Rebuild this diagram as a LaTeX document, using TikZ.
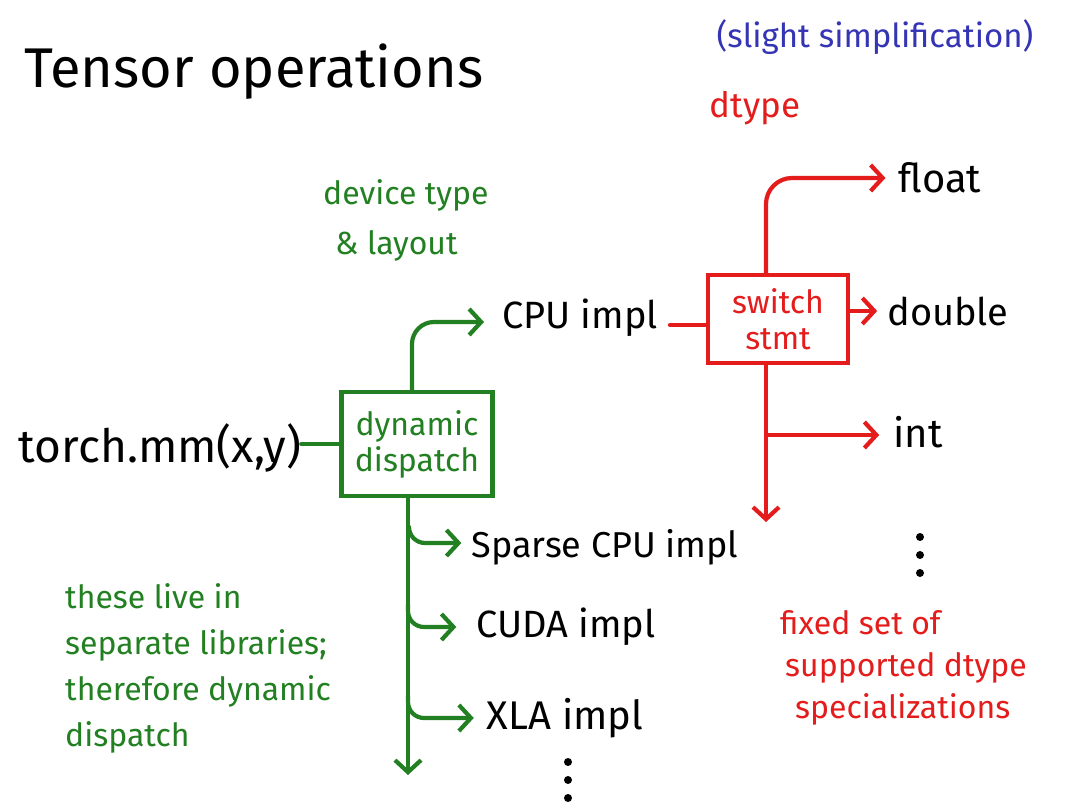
\documentclass[tikz,border=0pt]{standalone}
\usepackage{fontspec}
\setmainfont{Fira Sans}
\usetikzlibrary{arrows.meta}
\definecolor{grn}{RGB}{34,128,34}
\definecolor{rd}{RGB}{228,28,28}
\definecolor{bl}{RGB}{52,52,180}
\newcommand\fsz[2]{\fontsize{#1}{#2}\selectfont}
\tikzset{
  lbl/.style={inner sep=0pt, text=black, font=\fsz{38}{44}},
  gline/.style={draw=grn, line width=4.2pt, line cap=round, line join=round},
  rline/.style={draw=rd, line width=4.2pt, line cap=round, line join=round},
  tipd/.style={-{Straight Barb[length=12pt,width=26pt]}},
  gbox/.style={draw=grn, line width=4.2pt, text=grn, align=center, font=\fsz{32}{36}, inner sep=0pt},
  rbox/.style={draw=rd, line width=4.2pt, text=rd, align=center, font=\fsz{32}{36}, inner sep=0pt},
  note/.style={inner sep=0pt, align=left},
}
\begin{document}
\begin{tikzpicture}[x=1pt,y=-1pt]
\useasboundingbox (0,0) rectangle (1080,810);
\fill[white] (0,0) rectangle (1080,810);
% titles
\node[lbl, font=\fsz{56}{64}] (title) at (254,72) {Tensor operations};
\node[note, text=bl, font=\fsz{33}{38}] (simp) at (875,37) {(slight simplification)};
\node[note, text=rd, font=\fsz{35}{40}] (dtype) at (755,108) {dtype};
\node[note, text=grn, font=\fsz{32}{52}, anchor=west] (devt) at (323,220) {device type\\[-2pt]\hspace*{12pt}\& layout};
% main nodes
\node[lbl] (cpu) at (580,318) {CPU impl};
\node[rbox, minimum width=140pt, minimum height=88pt] (sw) at (778,319) {switch\\stmt};
\node[lbl, font=\fsz{40}{44}] (float) at (940,178) {float};
\node[lbl] (double) at (948,311) {double};
\node[lbl, font=\fsz{40}{44}] (int) at (918,432) {int};
\node[lbl, font=\fsz{46}{50}] (torch) at (160,448) {torch.mm(x,y)};
\node[gbox, minimum width=151pt, minimum height=104pt] (dd) at (417,444) {dynamic\\dispatch};
\node[lbl, font=\fsz{36}{44}] (sparse) at (605,547) {Sparse CPU impl};
\node[lbl] (cuda) at (566,627) {CUDA impl};
\node[lbl, font=\fsz{40}{44}] (xla) at (565,718) {XLA impl};
% notes
\node[note, text=grn, font=\fsz{32}{46}, anchor=north west] (gnote) at (65,583)
  {these live in\\separate libraries;\\therefore dynamic\\dispatch};
\node[note, text=rd, font=\fsz{32}{42}, anchor=north west] (rnote) at (780,610)
  {fixed set of\\\hspace*{5pt}supported dtype\\\hspace*{15pt}specializations};
% coordinates
\coordinate (redend) at (766,522);
\coordinate (intbr) at (766,435);
\coordinate (grnend) at (408,775);
\coordinate (b1) at (409,530);
\coordinate (b2) at (408,604);
\coordinate (b3) at (408,696);
% green connectors
\draw[gline] (torch.east |- dd.west) -- (dd.west);
\draw[gline, tipd, rounded corners=22pt] ([xshift=-5pt]dd.north) |- ([xshift=-18pt,yshift=-4pt]cpu.west);
\draw[gline, tipd] (dd.south -| grnend) -- (grnend);
\draw[gline, tipd, rounded corners=16pt] (b1) |- ([xshift=-10pt,yshift=4pt]sparse.west);
\draw[gline, tipd, rounded corners=16pt] (b2) |- ([xshift=-20pt]cuda.west);
\draw[gline, tipd, rounded corners=16pt] (b3) |- ([xshift=-13pt]xla.west);
% red connectors
\draw[rline] ([xshift=12pt,yshift=-6pt]cpu.east |- sw.west) -- ([yshift=-6pt]sw.west);
\draw[rline, tipd, rounded corners=26pt] ([xshift=-12pt]sw.north) |- ([xshift=-13pt]float.west);
\draw[rline, tipd] (sw.east |- double.west) -- ([xshift=-10pt]double.west);
\draw[rline, tipd] ([xshift=-12pt]sw.south) -- (redend);
\draw[rline, tipd] (intbr) -- ([xshift=-14pt]int.west |- intbr);
% ellipses (vertical dots)
\foreach \y in {537,555,573} \fill (920,\y) circle (4pt);
\foreach \y in {762,780,798} \fill (568,\y) circle (4pt);
\end{tikzpicture}
\end{document}
